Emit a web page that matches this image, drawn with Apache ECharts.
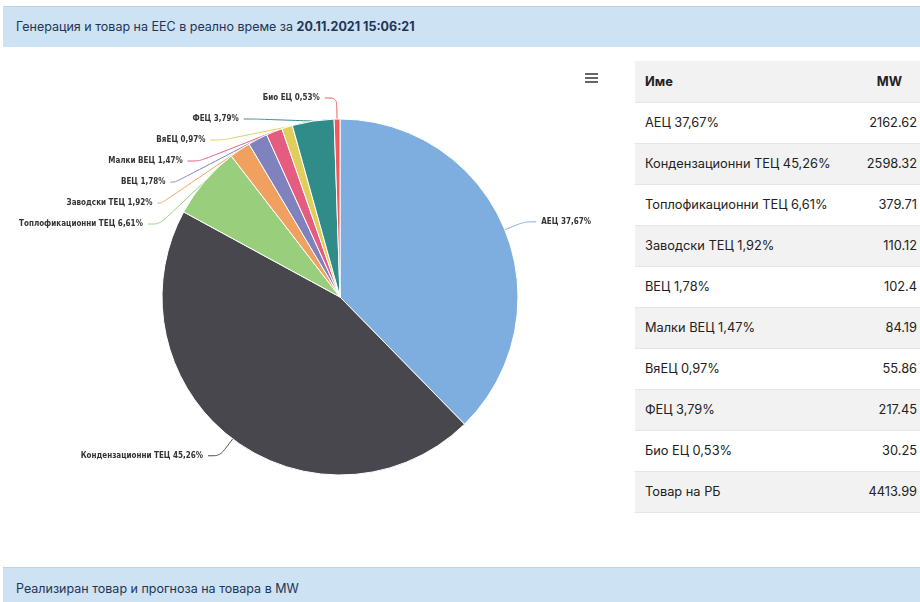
<!DOCTYPE html>
<html><head><meta charset="utf-8">
<script src="https://cdn.jsdelivr.net/npm/echarts@6/dist/echarts.min.js"></script>
<style>
html,body{margin:0;padding:0;background:#fff;width:920px;height:602px;overflow:hidden;font-family:Inter,Roboto,sans-serif;}
.bar{position:absolute;left:3px;right:0;background:#cde2f2;border-top:1px solid #b9d3ea;color:#1f3556;font-size:12.5px;padding-left:13px;box-sizing:border-box;}
#top{top:6px;height:41px;line-height:40px;}
#bottom{top:567px;height:40px;line-height:42px;}
#chart{position:absolute;left:0;top:50px;width:630px;height:510px;}
#tbl{position:absolute;left:635px;top:61px;width:288px;border-collapse:collapse;font-size:12.8px;color:#222;}
#tbl td,#tbl th{height:41px;padding:0 0 0 10px;box-sizing:border-box;border-bottom:1px solid #e6e6e6;}
#tbl th{text-align:left;font-weight:700;}
#tbl td.v,#tbl th.v{text-align:right;padding-right:6px;}
#tbl th.v{padding-right:21px;}
#tbl tr:nth-child(odd){background:#f2f2f2;}
#tbl tr:nth-child(even){background:#fff;}
.ham{position:absolute;left:585px;top:73px;width:13px;}
.ham div{height:2px;background:#666;margin-bottom:2px;}
</style></head>
<body>
<div class="bar" id="top">Генерация и товар на ЕЕС в реално време за <b>20.11.2021 15:06:21</b></div>
<div id="chart"></div>
<div class="ham"><div></div><div></div><div></div></div>
<table id="tbl"></table>
<div class="bar" id="bottom">Реализиран товар и прогноза на товара в MW</div>
<script>
const names = ["АЕЦ","Кондензационни ТЕЦ","Топлофикационни ТЕЦ","Заводски ТЕЦ","ВЕЦ","Малки ВЕЦ","ВяЕЦ","ФЕЦ","Био ЕЦ"];
const percents = ["37,67%","45,26%","6,61%","1,92%","1,78%","1,47%","0,97%","3,79%","0,53%"];
const values = [2162.62,2598.32,379.71,110.12,102.4,84.19,55.86,217.45,30.25];
const colors = ["#7eaedf","#47474d","#99cf7c","#f0a05f","#8082be","#e45c80","#dfcf5a","#2f8c89","#ec5a5c"];
const totalLabel = "Товар на РБ";
const totalValue = "4413.99";
const headers = ["Име","MW"];

// table
const tbl = document.getElementById('tbl');
let html = '<tr><th>'+headers[0]+'</th><th class="v">'+headers[1]+'</th></tr>';
names.forEach((n,i)=>{ html += '<tr><td>'+n+' '+percents[i]+'</td><td class="v">'+values[i]+'</td></tr>'; });
html += '<tr><td>'+totalLabel+'</td><td class="v">'+totalValue+'</td></tr>';
tbl.innerHTML = html;

const chart = echarts.init(document.getElementById('chart'));
chart.setOption({
  animation:false,
  series:[{
    type:'pie',
    center:[340,247],
    radius:178,
    startAngle:90,
    clockwise:true,
    avoidLabelOverlap:true,
    itemStyle:{borderColor:'#fff',borderWidth:1},
    label:{show:true,position:'outside',fontFamily:'DejaVu Sans Condensed, DejaVu Sans',fontWeight:'bold',fontSize:8,color:'#333',
      lineHeight:19,
      formatter:p=>p.name+' '+percents[p.dataIndex]},
    labelLine:{show:true,length:21,length2:12,smooth:0.3,lineStyle:{width:1}},
    emphasis:{disabled:true},
    data:names.map((n,i)=>({name:n,value:values[i],itemStyle:{color:colors[i]},labelLine:{lineStyle:{color:colors[i]}}}))
  }]
});
</script>
</body></html>
